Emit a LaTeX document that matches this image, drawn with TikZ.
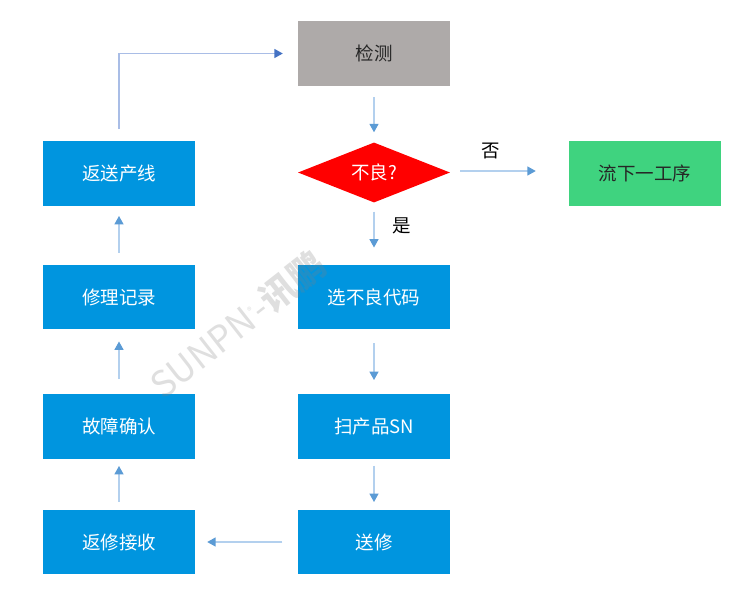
\documentclass[tikz,border=0pt]{standalone}
\usepackage{fontspec}
\setmainfont{Noto Sans CJK SC}
\usetikzlibrary{arrows.meta,shapes.geometric}
\definecolor{boxblue}{HTML}{0095DF}
\definecolor{boxgray}{HTML}{AEAAA9}
\definecolor{boxgreen}{HTML}{3FD37F}
\definecolor{linelight}{HTML}{B3D0EE}
\definecolor{tipblue}{HTML}{5B9BD5}
\definecolor{linetop}{HTML}{A9BDE6}
\definecolor{tiptop}{HTML}{4472C4}
\tikzset{
  x=1pt,y=-1pt,
  lbl/.style={font=\fontsize{18.5}{20}\selectfont},
  flowbox/.style={lbl,rectangle,minimum width=152pt,minimum height=64.5pt,inner sep=0pt,text=white,fill=boxblue},
  flowlink/.style={draw=linelight,line width=1.5pt,-{Triangle[length=8.5pt,width=9pt,color=tipblue,fill=tipblue]}},
  toplink/.style={draw=linetop,line width=1.5pt,-{Triangle[length=8.5pt,width=9pt,color=tiptop,fill=tiptop]}},
}
\begin{document}
\begin{tikzpicture}
\useasboundingbox[fill=white] (0,0) rectangle (750,598);
% nodes
\node[flowbox,fill=boxgray,text=black!85] (detect) at (374,53.5) {检测};
\node[lbl,diamond,fill=red,text=white,aspect=2.533,minimum width=152pt,minimum height=60pt,inner sep=0pt] (bad) at (374,172.5) {不良?};
\node[flowbox,fill=boxgreen,text=black!85] (next) at (645,173.5) {流下一工序};
\node[flowbox] (code) at (374,297) {选不良代码};
\node[flowbox] (scan) at (374,426.5) {扫产品SN};
\node[flowbox] (send) at (374,542) {送修};
\node[flowbox] (recv) at (119,542) {返修接收};
\node[flowbox] (confirm) at (119,426.5) {故障确认};
\node[flowbox] (record) at (119,297) {修理记录};
\node[flowbox] (back) at (119,173.5) {返送产线};
\node[lbl,text=black,inner sep=0pt] (no) at (491,151) {否};
\node[lbl,text=black,inner sep=0pt] (yes) at (402,226) {是};
% watermark
\node[rotate=38,text=black!50,opacity=0.25,inner sep=0pt,font=\fontsize{36}{40}\selectfont] (wm) at (238,325) {SUNPN\raisebox{14pt}{\fontsize{9}{9}\selectfont ®}-\bfseries 讯鹏};
% connectors
\draw[flowlink,shorten <=11.5pt,shorten >=10pt] (detect) -- (bad);
\draw[flowlink,shorten <=9pt,shorten >=17pt] (bad) -- (code);
\draw[flowlink,shorten <=10pt,shorten >=33pt] ([yshift=1.5pt]bad.east) -- ([yshift=1.5pt]next.west |- bad.east);
\draw[flowlink,shorten <=14pt,shorten >=14pt] (code) -- (scan);
\draw[flowlink,shorten <=7pt,shorten >=7.5pt] (scan) -- (send);
\draw[flowlink,shorten <=15.5pt,shorten >=12pt] (send) -- (recv);
\draw[flowlink,shorten <=8pt,shorten >=7pt] (recv) -- (confirm);
\draw[flowlink,shorten <=15pt,shorten >=12pt] (confirm) -- (record);
\draw[flowlink,shorten <=12pt,shorten >=10pt] (record) -- (back);
\draw[toplink,shorten <=12pt,shorten >=15pt] (back.north) |- (detect.west);
\end{tikzpicture}
\end{document}
